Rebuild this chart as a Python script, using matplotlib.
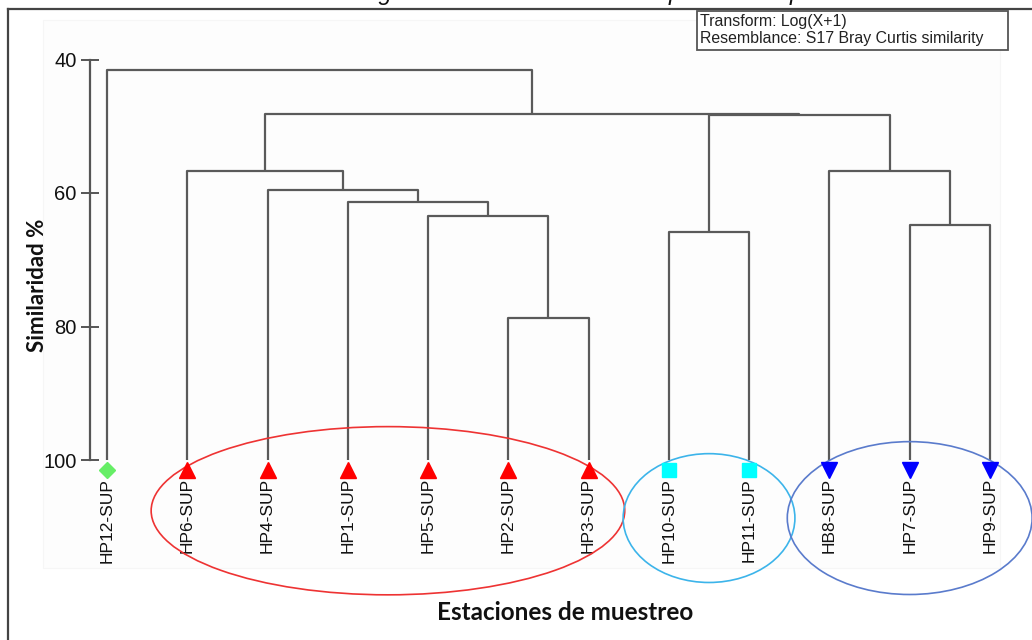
import matplotlib
matplotlib.use("Agg")
import matplotlib.pyplot as plt
from matplotlib.patches import Ellipse, Rectangle
from matplotlib.lines import Line2D

# Stations in dendrogram leaf order
stations = ["HP12-SUP", "HP6-SUP", "HP4-SUP", "HP1-SUP", "HP5-SUP", "HP2-SUP",
            "HP3-SUP", "HP10-SUP", "HP11-SUP", "HB8-SUP", "HP7-SUP", "HP9-SUP"]
# Group of each station (marker / ellipse)
station_group = ["aislada", "A", "A", "A", "A", "A", "A", "B", "B", "C", "C", "C"]

# Agglomeration steps: (left node, right node, similarity %)
# nodes 0..11 are stations, new nodes are numbered from 12 upward
merge_left = [5, 4, 3, 2, 1, 7, 10, 9, 17, 16, 0]
merge_right = [6, 12, 13, 14, 15, 8, 11, 18, 19, 20, 21]
merge_similarity = [78.7, 63.4, 61.3, 59.6, 56.65, 65.8, 64.75, 56.75, 48.3, 48.15, 41.5]

y_ticks = [40, 60, 80, 100]
transform_note = ["Transform: Log(X+1)", "Resemblance: S17 Bray Curtis similarity"]

group_style = {
    "aislada": dict(marker="D", color="#66ee66", size=8),
    "A": dict(marker="^", color="#ff0000", size=12),
    "B": dict(marker="s", color="#00ffff", size=10),
    "C": dict(marker="v", color="#0000ff", size=12),
}
# ellipse drawn round each group: (colour, extra width, height, centre y)
group_ellipse = {
    "A": ("#ee3333", 0.90, 25.2, 107.6),
    "B": ("#3cb4ea", 1.14, 19.3, 108.7),
    "C": ("#5a7bcc", 1.05, 22.9, 108.7),
}

W, H = 1032, 640
fig = plt.figure(figsize=(W / 100, H / 100), dpi=100)
fig.patch.set_facecolor("white")

# faint plotting panel
fig.add_artist(Rectangle((43 / W, 1 - 568 / H), (1000 - 43) / W, (568 - 20) / H,
                         transform=fig.transFigure, facecolor="#fdfdfd",
                         edgecolor="#f6f6f6", linewidth=0.8, zorder=0))

ax = fig.add_axes([90 / W, (H - 460) / H, (W - 90) / W, 400.5 / H])
ax.set_facecolor("none")
ax.set_xlim(-(107 - 90) / 80.27, (W - 107) / 80.27)
ax.set_ylim(100, 40)
for s in ("top", "right", "bottom"):
    ax.spines[s].set_visible(False)
ax.spines["left"].set_color("#555555")
ax.spines["left"].set_linewidth(1.6)
ax.set_xticks([])
ax.set_yticks(y_ticks)
ax.tick_params(axis="y", direction="inout", length=12.5, width=1.4, color="#555555",
               labelsize=14.5, pad=3.5, labelcolor="#111111")
for lab in ax.get_yticklabels():
    lab.set_family(["Liberation Sans", "DejaVu Sans"])

# dendrogram links
line_kw = dict(color="#5a5a5a", linewidth=1.6, solid_capstyle="butt", clip_on=False)
node_x = list(range(len(stations)))
node_h = [100.0] * len(stations)
for a, b, sim in zip(merge_left, merge_right, merge_similarity):
    xa, xb = node_x[a], node_x[b]
    ax.plot([xa, xa, xb, xb], [node_h[a], sim, sim, node_h[b]], **line_kw)
    node_x.append((xa + xb) / 2)
    node_h.append(sim)

# leaf markers and labels
for i, (name, grp) in enumerate(zip(stations, station_group)):
    st = group_style[grp]
    ax.plot([i], [101.5], marker=st["marker"], color=st["color"], markersize=st["size"],
            linestyle="none", clip_on=False, zorder=4)
    ax.text(i, 102.7, name, rotation=90, ha="center", va="top", fontsize=12.5,
            family=["Liberation Sans", "DejaVu Sans"], color="#111111", clip_on=False)

# group ellipses
for grp, (col, pad, eh, cy) in group_ellipse.items():
    idx = [i for i, g in enumerate(station_group) if g == grp]
    cx = (min(idx) + max(idx)) / 2
    ew = (max(idx) - min(idx)) + pad
    ax.add_patch(Ellipse((cx, cy), ew, eh, fill=False, edgecolor=col, linewidth=1.2,
                         clip_on=False, zorder=3))

# axis titles
bold_family = ["Lato", "Open Sans", "DejaVu Sans"]
fig.text(37 / W, 1 - 285 / H, "Similaridad %", rotation=90, ha="center", va="center",
         fontsize=16, fontweight="bold", family=bold_family, color="#111111")
fig.text(565 / W, 1 - 613 / H, "Estaciones de muestreo", ha="center", va="center",
         fontsize=17.5, fontweight="bold", family=bold_family, color="#111111")

# note box
fig.add_artist(Rectangle((697 / W, 1 - 50 / H), (1008 - 697) / W, (50 - 11) / H,
                         transform=fig.transFigure, facecolor="white",
                         edgecolor="#555555", linewidth=1.3, zorder=5))
for k, line in enumerate(transform_note):
    fig.text(700 / W, 1 - (26 + 17 * k) / H, line, ha="left", va="baseline",
             fontsize=11.4, family=["Liberation Sans Narrow", "Liberation Sans", "DejaVu Sans"],
             color="#222222", zorder=6)

# caption above the frame (only its lower edge falls inside the page)
fig.text(532 / W, 1.0, "Gráfico 3. Dendrograma de similaridad de fitoplancton superficial",
         ha="center", va="baseline", fontsize=17, style="italic",
         family=["Liberation Sans", "DejaVu Sans"], color="#111111")

# page frame
fig.add_artist(Line2D([7.5 / W, 7.5 / W], [0, 1 - 9 / H], transform=fig.transFigure,
                      color="#444444", linewidth=1.6))
fig.add_artist(Line2D([7.5 / W, 1], [1 - 9 / H, 1 - 9 / H], transform=fig.transFigure,
                      color="#444444", linewidth=1.6))

fig.savefig("out.png", dpi=100, facecolor="white")
